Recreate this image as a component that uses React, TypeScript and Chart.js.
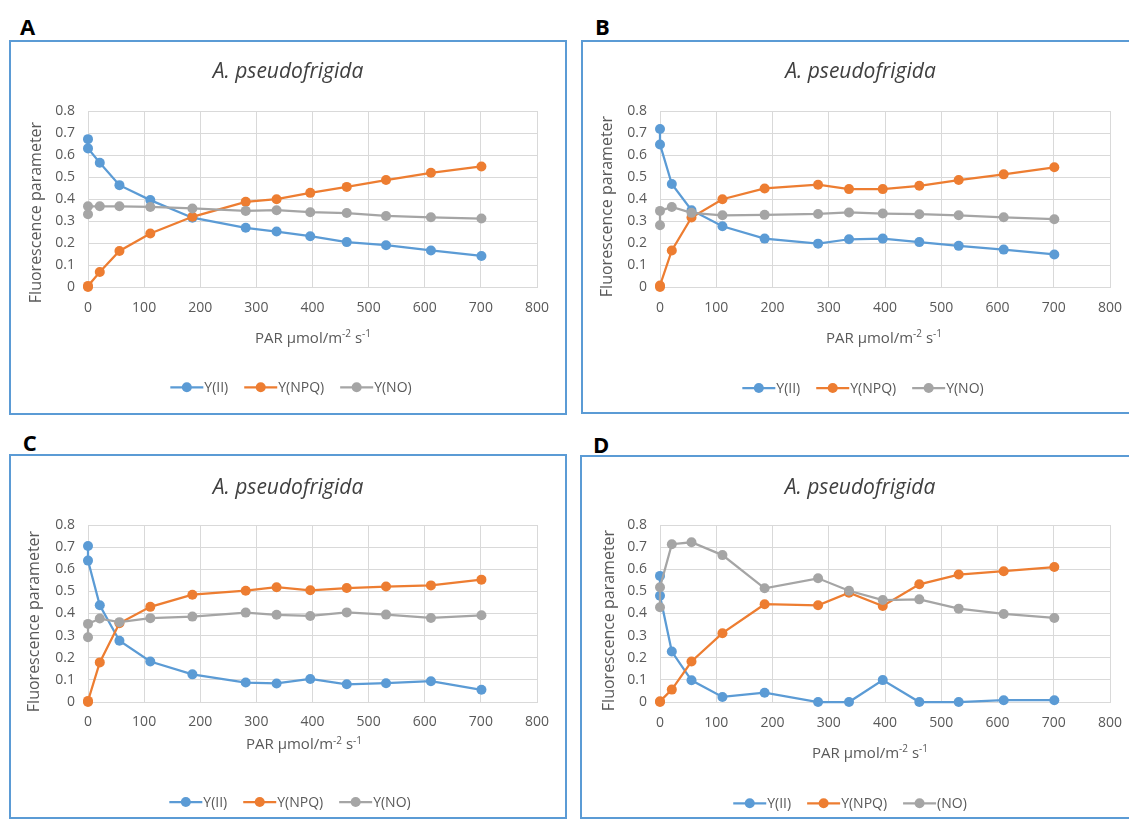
import React, { useEffect, useRef } from "react";
import { Chart, registerables } from "chart.js";

Chart.register(...registerables);

// ---------- data ----------
const PAR = [0, 0, 21, 56, 111, 186, 281, 336, 396, 461, 531, 611, 701];

const A_YII = [0.672, 0.63, 0.565, 0.463, 0.395, 0.315, 0.269, 0.252, 0.231, 0.204, 0.19, 0.166, 0.141];
const A_NPQ = [0.0, 0.005, 0.068, 0.164, 0.243, 0.319, 0.387, 0.399, 0.428, 0.455, 0.486, 0.519, 0.548];
const A_NO = [0.331, 0.367, 0.367, 0.367, 0.364, 0.357, 0.346, 0.349, 0.34, 0.336, 0.323, 0.317, 0.311];

const B_YII = [0.718, 0.648, 0.468, 0.349, 0.276, 0.22, 0.197, 0.217, 0.22, 0.204, 0.187, 0.17, 0.148];
const B_NPQ = [0.0, 0.007, 0.166, 0.316, 0.399, 0.448, 0.465, 0.445, 0.445, 0.46, 0.486, 0.512, 0.544];
const B_NO = [0.281, 0.346, 0.364, 0.337, 0.326, 0.328, 0.332, 0.339, 0.334, 0.331, 0.326, 0.317, 0.308];

const C_YII = [0.705, 0.639, 0.437, 0.277, 0.183, 0.125, 0.088, 0.084, 0.104, 0.08, 0.085, 0.094, 0.055];
const C_NPQ = [0.0, 0.005, 0.179, 0.356, 0.43, 0.485, 0.503, 0.519, 0.505, 0.515, 0.522, 0.527, 0.553];
const C_NO = [0.293, 0.353, 0.377, 0.361, 0.379, 0.386, 0.404, 0.394, 0.389, 0.405, 0.395, 0.38, 0.392];

const D_YII = [0.57, 0.48, 0.228, 0.098, 0.023, 0.042, 0.0, 0.0, 0.099, 0.0, 0.0, 0.008, 0.008];
const D_NPQ = [0.0, 0.003, 0.056, 0.183, 0.311, 0.442, 0.437, 0.494, 0.434, 0.532, 0.576, 0.591, 0.61];
const D_NO = [0.428, 0.519, 0.713, 0.722, 0.664, 0.514, 0.559, 0.503, 0.461, 0.464, 0.422, 0.398, 0.38];

const LABELS_ABC = ["Y(II)", "Y(NPQ)", "Y(NO)"];
const LABELS_D = ["Y(II)", "Y(NPQ)", "(NO)"];
const TITLE = "A. pseudofrigida";
const Y_TITLE = "Fluorescence parameter";
const X_TITLE_PARTS: [string, boolean][] = [
  ["PAR µmol/m", false],
  ["-2", true],
  [" s", false],
  ["-1", true],
];
const X_MIN = 0, X_MAX = 800, X_STEP = 100;
const Y_MIN = 0, Y_MAX = 0.8, Y_STEP = 0.1;

// ---------- style ----------
const FONT = "'Open Sans', sans-serif";
const COLORS = ["#5B9BD5", "#ED7D31", "#A5A5A5"];
const GRID = "#D9D9D9";
const TEXT = "#595959";
const TITLE_COLOR = "#404040";
const BORDER = 2;

type Cfg = {
  letter: string;
  series: number[][];
  labels: string[];
  box: [number, number, number, number];
  plot: [number, number, number, number];
  titleY: number;
  xTitle: [number, number];
  yTitle: [number, number];
  legend: [number, number];
  letterPos: [number, number];
  tickPad: number;
};

const PANELS: Cfg[] = [
  {
    letter: "A", series: [A_YII, A_NPQ, A_NO], labels: LABELS_ABC,
    box: [9, 40, 558, 375], plot: [88, 111, 537, 287], titleY: 72.5,
    xTitle: [313, 342.5], yTitle: [36.7, 212.5], legend: [291, 387.3], letterPos: [20, 18.3], tickPad: 13,
  },
  {
    letter: "B", series: [B_YII, B_NPQ, B_NO], labels: LABELS_ABC,
    box: [581, 40, 559, 374], plot: [660, 111, 1110, 287], titleY: 72.5,
    xTitle: [884, 342.5], yTitle: [607.5, 206.5], legend: [863, 388], letterPos: [595, 18.3], tickPad: 13,
  },
  {
    letter: "C", series: [C_YII, C_NPQ, C_NO], labels: LABELS_ABC,
    box: [9, 454, 558, 365], plot: [88, 525, 537, 702], titleY: 488,
    xTitle: [304, 749], yTitle: [34.2, 621.5], legend: [290, 802], letterPos: [22.7, 435], tickPad: 12,
  },
  {
    letter: "D", series: [D_YII, D_NPQ, D_NO], labels: LABELS_D,
    box: [580, 455, 560, 364], plot: [660, 525, 1110, 702], titleY: 488,
    xTitle: [870, 757.5], yTitle: [609, 620.5], legend: [850, 803.3], letterPos: [593, 437], tickPad: 13,
  },
];

function Panel({ cfg }: { cfg: Cfg }) {
  const ref = useRef<HTMLCanvasElement>(null);
  const [bl, bt, bw, bh] = cfg.box;
  const cw = bw - 2 * BORDER;
  const ch = bh - 2 * BORDER;
  const ox = bl + BORDER;
  const oy = bt + BORDER;

  useEffect(() => {
    const canvas = ref.current;
    if (!canvas) return;
    const [pl, pt, pr, pb] = cfg.plot;

    const decor = {
      id: "decor" + cfg.letter,
      afterDraw(chart: any) {
        const ctx: CanvasRenderingContext2D = chart.ctx;

        // chart title
        ctx.save();
        ctx.fillStyle = TITLE_COLOR;
        ctx.font = `italic 21px ${FONT}`;
        ctx.textAlign = "center";
        ctx.textBaseline = "middle";
        ctx.fillText(TITLE, cw / 2, cfg.titleY - oy);
        ctx.restore();

        // y title
        ctx.save();
        ctx.fillStyle = TEXT;
        ctx.font = `16px ${FONT}`;
        ctx.translate(cfg.yTitle[0] - ox, cfg.yTitle[1] - oy);
        ctx.rotate(-Math.PI / 2);
        ctx.textAlign = "center";
        ctx.textBaseline = "middle";
        ctx.fillText(Y_TITLE, 0, 0);
        ctx.restore();

        // x title with superscripts
        ctx.save();
        ctx.fillStyle = TEXT;
        ctx.textBaseline = "alphabetic";
        ctx.textAlign = "left";
        const mainF = `15px ${FONT}`;
        const supF = `10px ${FONT}`;
        let total = 0;
        const widths = X_TITLE_PARTS.map(([t, sup]) => {
          ctx.font = sup ? supF : mainF;
          const w = ctx.measureText(t).width;
          total += w;
          return w;
        });
        let x = cfg.xTitle[0] - ox - total / 2;
        const by = cfg.xTitle[1] - oy;
        X_TITLE_PARTS.forEach(([t, sup], i) => {
          ctx.font = sup ? supF : mainF;
          ctx.fillText(t, x, sup ? by - 5.5 : by);
          x += widths[i];
        });
        ctx.restore();

        // legend
        ctx.save();
        ctx.font = `14px ${FONT}`;
        const LINE = 33, G1 = 1, G2 = 16;
        const items = cfg.labels.map((t) => ctx.measureText(t).width);
        const tot = items.reduce((a, w) => a + LINE + G1 + w, 0) + G2 * (items.length - 1);
        let lx = cfg.legend[0] - ox - tot / 2;
        const ly = cfg.legend[1] - oy;
        cfg.labels.forEach((t, i) => {
          ctx.strokeStyle = COLORS[i];
          ctx.lineWidth = 2.25;
          ctx.beginPath();
          ctx.moveTo(lx, ly);
          ctx.lineTo(lx + LINE, ly);
          ctx.stroke();
          ctx.fillStyle = COLORS[i];
          ctx.beginPath();
          ctx.arc(lx + LINE / 2, ly, 5, 0, Math.PI * 2);
          ctx.fill();
          ctx.fillStyle = TEXT;
          ctx.textBaseline = "alphabetic";
          ctx.fillText(t, lx + LINE + G1, ly + 5);
          lx += LINE + G1 + items[i] + G2;
        });
        ctx.restore();
      },
    };

    const chart = new Chart(canvas, {
      type: "line",
      data: {
        datasets: cfg.series.map((vals, i) => ({
          label: cfg.labels[i],
          data: PAR.map((x, j) => ({ x, y: vals[j] })),
          borderColor: COLORS[i],
          backgroundColor: COLORS[i],
          pointBackgroundColor: COLORS[i],
          pointBorderColor: COLORS[i],
          borderWidth: 2.25,
          pointRadius: 5,
          pointHoverRadius: 5,
          pointBorderWidth: 0,
          tension: 0,
          fill: false,
          order: 3 - i,
          clip: false as any,
        })),
      },
      options: {
        animation: false,
        responsive: false,
        devicePixelRatio: 1,
        events: [],
        layout: { padding: { left: 0, top: pt - oy, bottom: 0, right: cw - (pr - ox) } },
        plugins: {
          legend: { display: false },
          tooltip: { enabled: false },
          title: { display: false },
        },
        scales: {
          x: {
            type: "linear",
            min: X_MIN,
            max: X_MAX,
            ticks: { stepSize: X_STEP, padding: cfg.tickPad, color: TEXT, font: { family: FONT, size: 14 }, maxRotation: 0 },
            grid: { color: GRID, lineWidth: 1, drawTicks: false },
            border: { color: GRID, width: 1 },
            afterFit: (s: any) => {
              s.height = ch - (pb - oy);
            },
          },
          y: {
            type: "linear",
            min: Y_MIN,
            max: Y_MAX,
            ticks: { stepSize: Y_STEP, padding: 13, color: TEXT, font: { family: FONT, size: 14 } },
            grid: { color: GRID, lineWidth: 1, drawTicks: false },
            border: { color: GRID, width: 1 },
            afterFit: (s: any) => {
              s.width = pl - ox;
            },
          },
        },
      },
      plugins: [decor],
    } as any);
    return () => chart.destroy();
  }, []);

  return (
    <>
      <div
        style={{
          position: "absolute",
          left: cfg.letterPos[0],
          top: cfg.letterPos[1] - 3.8,
          fontFamily: FONT,
          fontWeight: 700,
          fontSize: 22,
          lineHeight: "22px",
          color: "#000",
        }}
      >
        {cfg.letter}
      </div>
      <div
        style={{
          position: "absolute",
          left: bl,
          top: bt,
          width: bw,
          height: bh,
          boxSizing: "border-box",
          border: `${BORDER}px solid #5B9BD5`,
          background: "#fff",
        }}
      >
        <canvas ref={ref} width={cw} height={ch} style={{ display: "block", width: cw, height: ch }} />
      </div>
    </>
  );
}

export default function App() {
  return (
    <div
      style={{
        position: "fixed",
        left: 0,
        top: 0,
        width: 1129,
        height: 823,
        overflow: "hidden",
        background: "#fff",
      }}
    >
      {PANELS.map((p) => (
        <Panel key={p.letter} cfg={p} />
      ))}
    </div>
  );
}
